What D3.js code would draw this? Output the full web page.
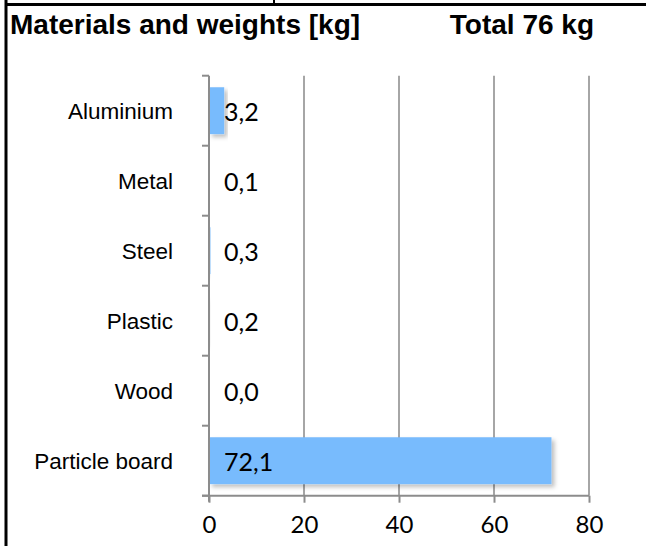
<!DOCTYPE html>
<html>
<head>
<meta charset="utf-8">
<script src="https://cdn.jsdelivr.net/npm/d3@7"></script>
<style>
  html, body { margin: 0; padding: 0; background: #fff; }
  svg { display: block; }
</style>
</head>
<body>
<svg id="chart" width="646" height="546"></svg>
<script>
const categories = ["Aluminium", "Metal", "Steel", "Plastic", "Wood", "Particle board"];
const weights = [3.2, 0.1, 0.3, 0.2, 0.0, 72.1];
const valueLabels = ["3,2", "0,1", "0,3", "0,2", "0,0", "72,1"];
const xTicks = [0, 20, 40, 60, 80];
const title = "Materials and weights [kg]";
const totalLabel = "Total 76 kg";

(function () {
const svg = d3.select("#chart");
const W = 646, H = 546;
const pLeft = 209, pRight = 589, pTop = 75.7, pBottom = 495.7;

const defs = svg.append("defs");
const f = defs.append("filter").attr("id", "shadow").attr("x", "-10%").attr("y", "-10%").attr("width", "130%").attr("height", "140%");
f.append("feDropShadow").attr("dx", 3).attr("dy", 3).attr("stdDeviation", 2).attr("flood-color", "#000").attr("flood-opacity", 0.25);

// frame lines
svg.append("line").attr("x1", 5).attr("x2", W).attr("y1", 4.5).attr("y2", 4.5).attr("stroke", "#000").attr("stroke-width", 3);
svg.append("line").attr("x1", 6).attr("x2", 6).attr("y1", 0).attr("y2", H).attr("stroke", "#000").attr("stroke-width", 3);
svg.append("line").attr("x1", 274).attr("x2", 274).attr("y1", 0).attr("y2", 4).attr("stroke", "#000").attr("stroke-width", 2);

// titles
svg.append("text").attr("x", 10).attr("y", 34).text(title)
  .attr("font-family", "Liberation Sans, Arial, sans-serif").attr("font-weight", "bold").attr("font-size", 28).attr("fill", "#000");
svg.append("text").attr("x", 594).attr("y", 34).attr("text-anchor", "end").text(totalLabel)
  .attr("font-family", "Liberation Sans, Arial, sans-serif").attr("font-weight", "bold").attr("font-size", 28).attr("fill", "#000");

const x = d3.scaleLinear().domain([0, 80]).range([pLeft, pRight]);
const y = d3.scaleBand().domain(categories).range([pTop, pBottom]).paddingInner(0.33).paddingOuter(0.165);
const yEdges = d3.scaleBand().domain(categories).range([pTop, pBottom]);

// gridlines
svg.append("g").selectAll("line").data(xTicks.filter(d => d > 0)).join("line")
  .attr("x1", d => x(d)).attr("x2", d => x(d)).attr("y1", pTop).attr("y2", pBottom)
  .attr("stroke", "#a6a6a6").attr("stroke-width", 2);

// bars
svg.append("g").selectAll("rect").data(categories).join("rect")
  .attr("x", x(0)).attr("y", d => y(d))
  .attr("width", (d, i) => Math.max(0, x(weights[i]) - x(0)))
  .attr("height", y.bandwidth())
  .attr("fill", "#78bbfd")
  .attr("filter", "url(#shadow)");

// y axis line and ticks at category boundaries
const yAxis = svg.append("g");
yAxis.append("line").attr("x1", pLeft).attr("x2", pLeft).attr("y1", pTop).attr("y2", pBottom + 6).attr("stroke", "#8c8c8c").attr("stroke-width", 2);
const boundaries = categories.map(c => yEdges(c)).concat([pBottom]);
yAxis.selectAll("line.tk").data(boundaries).join("line").attr("class", "tk")
  .attr("x1", pLeft - 7).attr("x2", pLeft).attr("y1", d => d).attr("y2", d => d)
  .attr("stroke", "#8c8c8c").attr("stroke-width", 2);

// x axis
const xAxis = svg.append("g").attr("transform", `translate(0,${pBottom})`)
  .call(d3.axisBottom(x).tickValues(xTicks).tickSize(7).tickPadding(13).tickFormat(d3.format("d")));
xAxis.select(".domain").attr("d", `M${pLeft - 7},0H${pRight}`).attr("stroke", "#8c8c8c").attr("stroke-width", 2);
xAxis.selectAll(".tick line").attr("stroke", "#8c8c8c").attr("stroke-width", 2);
xAxis.selectAll(".tick text").attr("font-family", "Lato, sans-serif").attr("font-size", 24).attr("fill", "#000");

// category labels
svg.append("g").selectAll("text").data(categories).join("text")
  .attr("x", 173).attr("y", d => yEdges(d) + yEdges.bandwidth() / 2 + 8)
  .attr("text-anchor", "end")
  .attr("font-family", "Liberation Sans, Arial, sans-serif").attr("font-size", 22.5).attr("fill", "#000")
  .text(d => d);

// value labels
svg.append("g").selectAll("text").data(categories).join("text")
  .attr("x", x(0) + 15).attr("y", d => yEdges(d) + yEdges.bandwidth() / 2 + 10.5)
  .attr("font-family", "Lato, sans-serif").attr("font-size", 25).attr("fill", "#000")
  .text((d, i) => valueLabels[i]);
})();
</script>
</body>
</html>
